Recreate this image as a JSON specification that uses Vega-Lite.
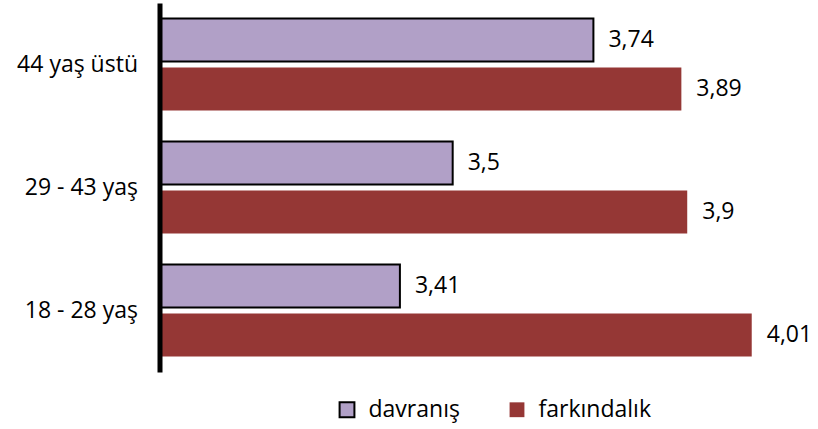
{
  "$schema": "https://vega.github.io/schema/vega-lite/v6.json",
  "width": 645,
  "height": 369,
  "autosize": "none",
  "padding": {"left": 159.5, "top": 3, "right": 13.5, "bottom": 57},
  "config": {
    "view": {"stroke": null},
    "font": "Open Sans",
    "locale": {"number": {"decimal": ",", "thousands": ".", "grouping": [3], "currency": ["", ""]}}
  },
  "data": {
    "values": [
      {"grup": "44 yaş üstü", "seri": "davranış", "deger": 3.74},
      {"grup": "44 yaş üstü", "seri": "farkındalık", "deger": 3.89},
      {"grup": "29 - 43 yaş", "seri": "davranış", "deger": 3.5},
      {"grup": "29 - 43 yaş", "seri": "farkındalık", "deger": 3.9},
      {"grup": "18 - 28 yaş", "seri": "davranış", "deger": 3.41},
      {"grup": "18 - 28 yaş", "seri": "farkındalık", "deger": 4.01}
    ]
  },
  "encoding": {
    "y": {
      "field": "grup",
      "type": "nominal",
      "sort": ["44 yaş üstü", "29 - 43 yaş", "18 - 28 yaş"],
      "scale": {"paddingInner": 0, "paddingOuter": 0},
      "axis": {
        "title": null,
        "ticks": false,
        "domainColor": "black",
        "domainWidth": 5,
        "labelFontSize": 23,
        "labelColor": "black",
        "labelPadding": 22,
        "labelFont": "Open Sans",
        "zindex": 1
      }
    },
    "yOffset": {
      "field": "seri",
      "type": "nominal",
      "sort": ["davranış", "farkındalık"],
      "scale": {"paddingInner": 0.12, "paddingOuter": 0.315}
    },
    "x": {
      "field": "deger",
      "type": "quantitative",
      "scale": {"domain": [3, 4.1], "zero": false, "nice": false, "clamp": true},
      "axis": null
    }
  },
  "layer": [
    {
      "mark": {"type": "bar", "orient": "horizontal"},
      "encoding": {
        "color": {
          "field": "seri",
          "type": "nominal",
          "sort": ["davranış", "farkındalık"],
          "scale": {"domain": ["davranış", "farkındalık"], "range": ["#B1A0C7", "#953735"]},
          "legend": {
            "title": null,
            "orient": "none",
            "direction": "horizontal",
            "legendX": 176,
            "legendY": 395,
            "symbolType": "square",
            "symbolSize": 220,
            "symbolStrokeWidth": 2,
            "labelFontSize": 23,
            "labelColor": "black",
            "labelFont": "Open Sans",
            "columnPadding": 45,
            "labelOffset": 10
          }
        },
        "stroke": {
          "field": "seri",
          "type": "nominal",
          "scale": {"domain": ["davranış", "farkındalık"], "range": ["black", "#953735"]},
          "legend": null
        },
        "strokeWidth": {
          "field": "seri",
          "type": "nominal",
          "scale": {"domain": ["davranış", "farkındalık"], "range": [2, 0]},
          "legend": null
        }
      }
    },
    {
      "mark": {"type": "text", "align": "left", "baseline": "middle", "dx": 15, "fontSize": 23, "color": "black", "font": "Open Sans"},
      "encoding": {
        "text": {"field": "deger", "type": "quantitative", "format": ".3~r"}
      }
    }
  ]
}
